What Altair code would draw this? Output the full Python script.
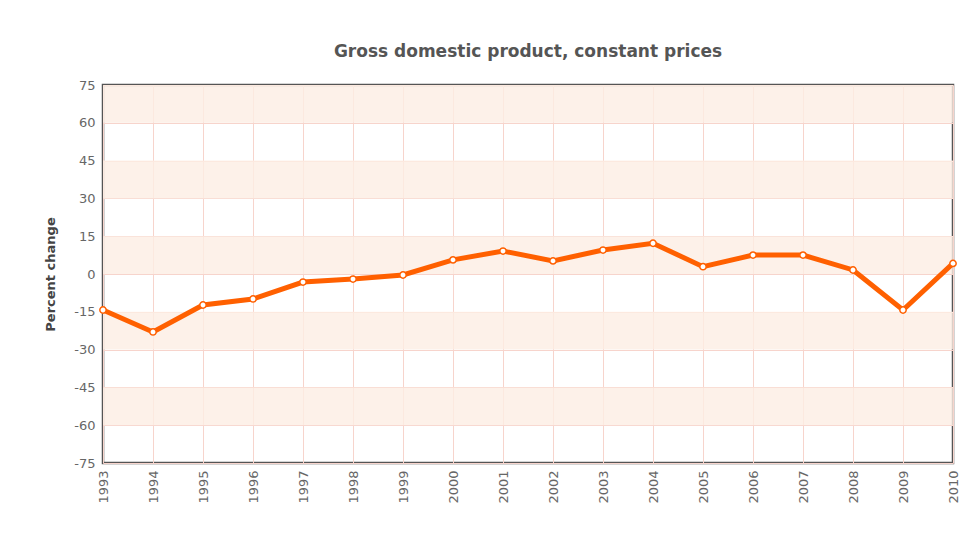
import altair as alt
import pandas as pd

years = [1993, 1994, 1995, 1996, 1997, 1998, 1999, 2000, 2001, 2002,
         2003, 2004, 2005, 2006, 2007, 2008, 2009, 2010]
values = [-14.3, -23.0, -12.3, -9.9, -3.2, -2.0, -0.4, 5.6, 9.1, 5.2,
          9.5, 12.2, 2.9, 7.5, 7.5, 1.6, -14.3, 4.2]
y_ticks = [75, 60, 45, 30, 15, 0, -15, -30, -45, -60, -75]
band_lo = [60, 30, 0, -30, -60]
band_hi = [75, 45, 15, -15, -45]

df = pd.DataFrame({"year": years, "value": values})
bands = pd.DataFrame({"lo": band_lo, "hi": band_hi})

x_scale = alt.Scale(domain=[1993, 2010], nice=False, zero=False)
y_scale = alt.Scale(domain=[-75, 75], nice=False)

x_axis = alt.Axis(values=years, labelExpr="'' + datum.value", labelAngle=-90,
                  labelAlign="right", labelBaseline="middle", title=None,
                  ticks=False, domain=False, labelOverlap=False,
                  labelFontSize=13, labelColor="#666", labelPadding=7,
                  labelFont="DejaVu Sans", labelFlush=False,
                  grid=True, gridColor="#f7d4cc", gridWidth=1)
y_axis = alt.Axis(values=y_ticks, labelExpr="'' + datum.value", title="Percent change",
                  ticks=False, domain=False, labelOverlap=False,
                  labelFontSize=13, labelColor="#666", labelPadding=8,
                  labelFont="DejaVu Sans", labelFlush=False,
                  titleFontSize=13, titleColor="#444", titleFont="DejaVu Sans",
                  titleFontWeight="bold", titlePadding=16,
                  grid=True, gridColor="#f7d4cc", gridWidth=1)

band_layer = alt.Chart(bands).mark_rect(color="#fdeee4", opacity=0.8).encode(
    y=alt.Y("hi:Q", scale=y_scale, axis=y_axis, title="Percent change"),
    y2="lo:Q",
)

line = alt.Chart(df).mark_line(color="#ff6000", strokeWidth=5).encode(
    x=alt.X("year:Q", scale=x_scale, axis=x_axis),
    y=alt.Y("value:Q", scale=y_scale, axis=y_axis, title="Percent change"),
)

points = alt.Chart(df).mark_point(filled=True, fill="white", stroke="#ff6000",
                                  strokeWidth=1.5, size=40, opacity=1).encode(
    x=alt.X("year:Q", scale=x_scale, axis=x_axis),
    y=alt.Y("value:Q", scale=y_scale, axis=y_axis, title="Percent change"),
)

chart = alt.layer(band_layer, line, points).properties(
    width=850,
    height=378,
    title=alt.TitleParams("Gross domestic product, constant prices", fontSize=17,
                          color="#555", font="DejaVu Sans", fontWeight="bold",
                          anchor="middle", offset=18),
    autosize=alt.AutoSizeParams(type="none"),
    padding={"left": 95, "top": 77, "right": 7, "bottom": 70},
).configure_view(stroke="#555", strokeWidth=2.5)

chart.save("out.html", embed_options={"renderer": "svg", "actions": False})
